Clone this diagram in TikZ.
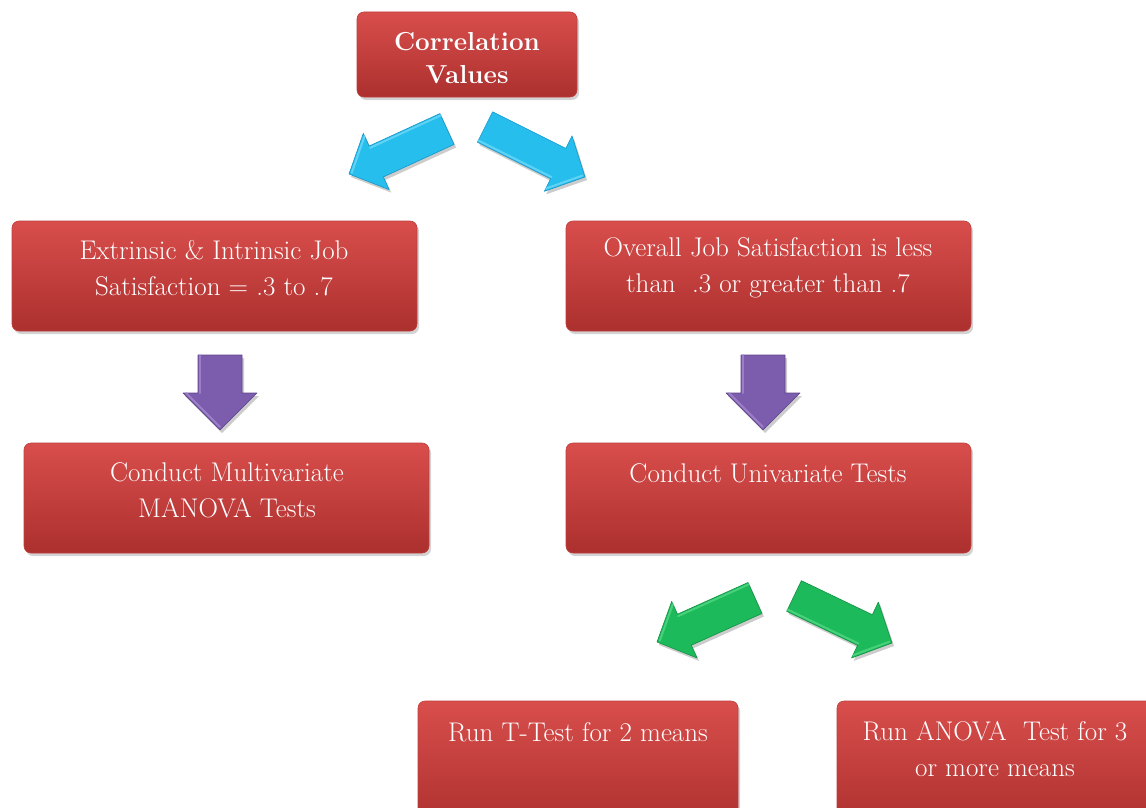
\documentclass[tikz,border=0pt]{standalone}
\usepackage{fontspec}
\usetikzlibrary{calc,shadows}
\definecolor{redtop}{RGB}{216,78,76}
\definecolor{redbot}{RGB}{172,48,46}
\definecolor{rededge}{RGB}{190,62,60}
\definecolor{bluearr}{RGB}{38,190,236}
\definecolor{blueedge}{RGB}{20,150,200}
\definecolor{bluelight}{RGB}{120,220,250}
\definecolor{purparr}{RGB}{124,92,172}
\definecolor{purpedge}{RGB}{95,68,140}
\definecolor{purplight}{RGB}{170,140,210}
\definecolor{greenarr}{RGB}{28,186,90}
\definecolor{greenedge}{RGB}{18,145,66}
\definecolor{greenlight}{RGB}{90,220,140}
\tikzset{
  box/.style={rounded corners=7pt, top color=redtop, bottom color=redbot, draw=rededge, line width=0.6pt,
    drop shadow={shadow xshift=2pt, shadow yshift=-3pt, opacity=0.35}, inner sep=0pt},
  txt/.style={text=white, align=center, font=\fontsize{27}{36}\selectfont, inner sep=0pt},
  bluestyle/.style={fill=bluearr, draw=blueedge, line width=0.6pt, line join=round},
  purpstyle/.style={fill=purparr, draw=purpedge, line width=0.6pt, line join=round},
  greenstyle/.style={fill=greenarr, draw=greenedge, line width=0.6pt, line join=round},
  arrshadow/.style={fill=black, opacity=0.2}
}
% #1 style, #2 tail coord, #3 tip coord, #4 half shaft, #5 half head, #6 head length, #7 highlight colour
\newcommand\blockarr[7]{%
  \coordinate (H) at ($(#3)!#6!(#2)$);
  \begin{scope}[transform canvas={shift={(2pt,-3pt)}}]
  \fill[arrshadow] ($(#2)!#4!90:(#3)$) -- ($(H)!#4!-90:(#2)$) -- ($(H)!#5!-90:(#2)$) -- (#3)
     -- ($(H)!#5!90:(#2)$) -- ($(H)!#4!90:(#2)$) -- ($(#2)!#4!-90:(#3)$) -- cycle;
  \end{scope}
  \filldraw[#1] ($(#2)!#4!90:(#3)$) -- ($(H)!#4!-90:(#2)$) -- ($(H)!#5!-90:(#2)$) -- (#3)
     -- ($(H)!#5!90:(#2)$) -- ($(H)!#4!90:(#2)$) -- ($(#2)!#4!-90:(#3)$) -- cycle;
  \draw[#7, line width=2pt, line cap=round, opacity=0.7] ($(#2)!#4-2pt!-90:(#3)$) -- ($(H)!#4-2pt!90:(#2)$);
  \draw[#7, line width=2pt, line cap=round, opacity=0.7] ($(H)!#5-3pt!90:(#2)$) -- ($(#3)!3pt!(#2)$);
}
\begin{document}
\begin{tikzpicture}[x=1pt,y=-1pt]
\useasboundingbox (0,0) rectangle (1146,808);
\clip (0,0) rectangle (1146,808);
% boxes
\node[box, minimum width=220pt, minimum height=85pt] (b0) at (467,54.5) {};
\node[box, minimum width=405pt, minimum height=110pt] (b1) at (214.5,276) {};
\node[box, minimum width=405pt, minimum height=110pt] (b2) at (768.5,276) {};
\node[box, minimum width=405pt, minimum height=110pt] (b3) at (226.5,498) {};
\node[box, minimum width=405pt, minimum height=110pt] (b4) at (768.5,498) {};
\node[box, minimum width=320pt, minimum height=129pt] (b5) at (578,765.5) {};
\node[box, minimum width=323pt, minimum height=129pt] (b6) at (998.5,765.5) {};
% texts
\node[txt, font=\fontsize{26}{33}\selectfont\bfseries] (t0) at (467,58.5) {Correlation\\Values};
\node[txt] (t1) at (214,268) {Extrinsic \& Intrinsic Job\\Satisfaction = .3 to .7};
\node[txt] (t2) at (768,268) {Overall Job Satisfaction is less\\than\ \ .3 or greater than .7};
\node[txt] (t3) at (227,490) {Conduct Multivariate\\MANOVA Tests};
\node[txt] (t4) at (768,473) {Conduct Univariate Tests};
\node[txt] (t5) at (578,732) {Run T-Test for 2 means};
\node[txt] (t6) at (995,749.5) {Run ANOVA\ \ Test for 3\\or more means};
% arrow coordinates
\coordinate (a1t) at (447,129); \coordinate (a1p) at (349,174);
\coordinate (a2t) at (485,127); \coordinate (a2p) at (585,177);
\coordinate (a3t) at (220,355); \coordinate (a3p) at (220,430);
\coordinate (a4t) at (763,355); \coordinate (a4p) at (763,430);
\coordinate (a5t) at (755,598); \coordinate (a5p) at (657,642);
\coordinate (a6t) at (794,596); \coordinate (a6p) at (892,643);
\blockarr{bluestyle}{a1t}{a1p}{17pt}{31pt}{30pt}{bluelight}
\blockarr{bluestyle}{a2t}{a2p}{17pt}{31pt}{30pt}{bluelight}
\blockarr{purpstyle}{a3t}{a3p}{22pt}{37pt}{37pt}{purplight}
\blockarr{purpstyle}{a4t}{a4p}{22pt}{37pt}{37pt}{purplight}
\blockarr{greenstyle}{a5t}{a5p}{17pt}{31pt}{30pt}{greenlight}
\blockarr{greenstyle}{a6t}{a6p}{17pt}{31pt}{30pt}{greenlight}
\end{tikzpicture}
\end{document}
